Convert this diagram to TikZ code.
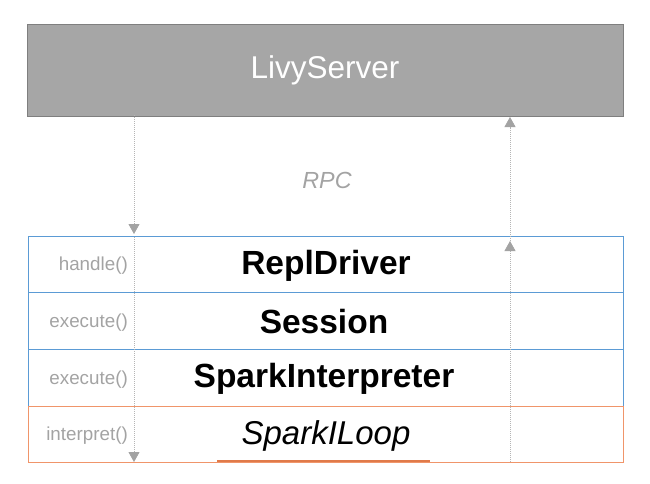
\documentclass[tikz,border=0pt]{standalone}
\usepackage{fontspec}
\setmainfont{Liberation Sans}
\usetikzlibrary{arrows.meta}
\definecolor{boxgray}{HTML}{A6A6A6}
\definecolor{boxedge}{HTML}{7F7F7F}
\definecolor{rowblue}{HTML}{5B9BD5}
\definecolor{roworange}{HTML}{F0956A}
\definecolor{lineorange}{HTML}{E07A4A}
\definecolor{labgray}{HTML}{A3A3A3}
\definecolor{dotgray}{HTML}{B5B5B5}
\begin{document}
\begin{tikzpicture}[x=1pt,y=-1pt,
  rowbox/.style={draw=rowblue, line width=1pt, minimum width=595pt, inner sep=0pt, font=\fontsize{33.5}{36}\selectfont\bfseries, text=black},
  calllabel/.style={anchor=east, text=labgray, font=\fontsize{18.8}{22}\selectfont, inner sep=0pt},
  dotline/.style={draw=dotgray, line width=0.8pt, dash pattern=on 1pt off 1pt},
  tipline/.style={dotline, -{Triangle[width=11pt,length=10pt,fill=labgray,color=labgray]}}
]
\useasboundingbox (0,0) rectangle (650,483);
\node[draw=boxedge, fill=boxgray, line width=1pt, minimum width=596pt, minimum height=92pt, inner sep=0pt,
      text=white, font=\fontsize{31.5}{34}\selectfont] (livy) at (325,70) {LivyServer};
\node[text=labgray, font=\fontsize{23.3}{26}\selectfont\itshape, inner sep=0pt] (rpc) at (327,180) {RPC};
\node[rowbox, minimum height=56pt] (rd) at (325.5,264) {};
\node[rowbox, minimum height=57pt] (se) at (325.5,320.5) {};
\node[rowbox, minimum height=57pt] (si) at (325.5,377.5) {};
\node[rowbox, draw=roworange, minimum height=56pt] (sl) at (325.5,434) {};
\node[font=\fontsize{33.5}{36}\selectfont\bfseries, inner sep=0pt] (t1) at (326,266) {ReplDriver};
\node[font=\fontsize{33.5}{36}\selectfont\bfseries, inner sep=0pt] (t2) at (324,322) {Session};
\node[font=\fontsize{33.5}{36}\selectfont\bfseries, inner sep=0pt] (t3) at (324,379) {SparkInterpreter};
\node[font=\fontsize{33}{36}\selectfont\itshape, inner sep=0pt] (t4) at (326,436) {SparkILoop};
\node[calllabel] (l1) at (128,266) {handle()};
\node[calllabel] (l2) at (128,323) {execute()};
\node[calllabel] (l3) at (128,380) {execute()};
\node[calllabel] (l4) at (128,436) {interpret()};
\coordinate (lt) at (134,115);
\coordinate (lm) at (134,234);
\coordinate (lm2) at (134,237);
\coordinate (lb) at (134,462);
\coordinate (rb) at (510,462);
\coordinate (rm) at (510,241);
\coordinate (rt) at (510,117);
\draw[tipline] (lt) -- (lm);
\draw[tipline] (lm2) -- (lb);
\draw[tipline] (rb) -- (rm);
\draw[tipline] (rm) -- (rt);
\coordinate (ul1) at (217,461);
\coordinate (ul2) at (430,461);
\draw[lineorange, line width=1.4pt] (ul1) -- (ul2);
\end{tikzpicture}
\end{document}
